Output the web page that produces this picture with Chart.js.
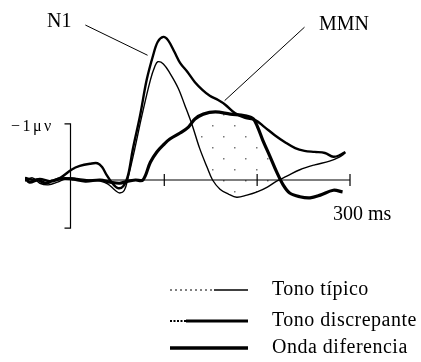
<!DOCTYPE html>
<html>
<head>
<meta charset="utf-8">
<script src="https://cdn.jsdelivr.net/npm/chart.js@4.4.1/dist/chart.umd.min.js"></script>
<style>
  html, body { margin: 0; padding: 0; background: #ffffff; }
  #wrap { width: 421px; height: 362px; }
</style>
</head>
<body>
<div id="wrap"><canvas id="c" width="421" height="362"></canvas></div>
<script>
// ---- Data (time in ms, amplitude in µV, negativity plotted upward) ----
const timeTipico = [-50,-42,-34,-25,-15,-7,0,9,20,31,39,47,52,57,61,68,76,85,90,93,99,106,115,122,130,138,146,152,160,169,178,189,200,211,221,232,246,262,278,289,295];
const valTipico  = [-0.02,0.04,-0.06,-0.09,-0.04,0.02,0.04,0.02,0,-0.02,-0.07,-0.19,-0.24,-0.19,0.04,0.56,1.20,1.85,2.11,2.19,2.15,1.98,1.70,1.39,1.02,0.59,0.24,0,-0.17,-0.26,-0.32,-0.28,-0.22,-0.13,-0.02,0.07,0.19,0.28,0.35,0.43,0.50];

const timeDiscrepante = [-50,-41,-34,-23,-12,0,9,20,28,33,38,44,50,56,61,66,74,81,88,93,99,104,111,117,125,133,141,149,158,166,176,187,198,208,219,230,241,251,262,273,282,289,295];
const valDiscrepante  = [0.04,0,0.02,-0.02,0.04,0.19,0.26,0.30,0.31,0.24,0.09,-0.06,-0.15,-0.11,0.09,0.56,1.20,1.85,2.31,2.56,2.65,2.59,2.37,2.17,2.00,1.81,1.67,1.56,1.48,1.39,1.24,1.15,1.11,0.98,0.83,0.70,0.59,0.54,0.52,0.50,0.43,0.46,0.52];

const timeDiferencia = [-50,-45,-36,-28,-21,-12,0,15,31,42,52,61,69,77,85,92,99,106,117,126,133,142,155,171,187,196,201,206,214,221,228,235,246,257,268,282,292];
const valDiferencia  = [0.04,-0.04,0,-0.06,-0.02,0.02,0.02,-0.02,0,-0.04,-0.06,-0.02,0,0,0.33,0.52,0.65,0.76,0.87,0.98,1.13,1.22,1.26,1.22,1.19,1.13,0.96,0.74,0.43,0.15,-0.09,-0.24,-0.31,-0.33,-0.28,-0.19,-0.22];

const xTicks = [100, 200, 300];
const xTickLabel = '300 ms';
const yTickLabel = '\u22121\u03bc\u03bd';
const peakLabels = ['N1', 'MMN'];
const legendLabels = ['Tono típico', 'Tono discrepante', 'Onda diferencia'];

const toXY = (ts, vs) => ts.map((t, i) => ({ x: t, y: vs[i] }));

// sparse stipple pattern for the MMN area
function makeStipple() {
  const p = document.createElement('canvas');
  p.width = 22; p.height = 22;
  const g = p.getContext('2d');
  g.fillStyle = '#777';
  g.fillRect(3, 4, 1.5, 1.5);
  g.fillRect(14, 15, 1.5, 1.5);
  return g.createPattern(p, 'repeat');
}

const serif = '"Liberation Serif", "DejaVu Serif", serif';

const decorPlugin = {
  id: 'decor',
  afterDatasetsDraw(chart) {
    const ctx = chart.ctx;
    const xs = chart.scales.x, ys = chart.scales.y;
    const X = v => xs.getPixelForValue(v);
    const Y = v => ys.getPixelForValue(v);
    ctx.save();
    ctx.strokeStyle = '#000';
    ctx.fillStyle = '#000';
    ctx.lineCap = 'butt';

    // baseline (time axis)
    ctx.lineWidth = 1.2;
    ctx.beginPath();
    ctx.moveTo(X(0), Y(0)); ctx.lineTo(X(300), Y(0));
    ctx.stroke();
    xTicks.forEach(t => {
      ctx.beginPath();
      ctx.moveTo(X(t), Y(0) - 6); ctx.lineTo(X(t), Y(0) + 6);
      ctx.stroke();
    });

    // amplitude bracket
    const ax = Math.round(X(0)) - 0.5;
    ctx.beginPath();
    ctx.moveTo(ax - 6, Y(1.04)); ctx.lineTo(ax, Y(1.04));
    ctx.lineTo(ax, Y(-0.89)); ctx.lineTo(ax - 6, Y(-0.89));
    ctx.stroke();

    // leader lines
    ctx.lineWidth = 1;
    ctx.beginPath();
    ctx.moveTo(X(15), Y(2.87)); ctx.lineTo(X(82), Y(2.31));
    ctx.moveTo(X(251), Y(2.83)); ctx.lineTo(X(165), Y(1.47));
    ctx.stroke();

    // texts
    ctx.textBaseline = 'alphabetic';
    ctx.font = '20px ' + serif;
    ctx.textAlign = 'left';
    ctx.fillText(peakLabels[0], 47, Y(2.83));
    ctx.fillText(peakLabels[1], 319, Y(2.78));
    ctx.fillText(xTickLabel, X(300) - 17, Y(0) + 40);
    ctx.font = '16px ' + serif;
    ctx.textAlign = 'left';
    try { ctx.letterSpacing = '2.5px'; } catch (e) {}
    ctx.fillText(yTickLabel, 11, Y(1) + 5);
    try { ctx.letterSpacing = '0px'; } catch (e) {}

    // legend
    const lx0 = 170, lx1 = 248, tx = 272;
    const rows = [290, 321, 348];
    // row 1: thin, dotted then solid
    ctx.lineWidth = 1;
    ctx.setLineDash([2, 3]);
    ctx.beginPath(); ctx.moveTo(lx0, rows[0]); ctx.lineTo(214, rows[0]); ctx.stroke();
    ctx.setLineDash([]);
    ctx.lineWidth = 1.6;
    ctx.beginPath(); ctx.moveTo(214, rows[0]); ctx.lineTo(lx1, rows[0]); ctx.stroke();
    // row 2: medium, dotted start then solid
    ctx.lineWidth = 2.2;
    ctx.setLineDash([2, 1.5]);
    ctx.beginPath(); ctx.moveTo(lx0, rows[1]); ctx.lineTo(186, rows[1]); ctx.stroke();
    ctx.setLineDash([]);
    ctx.lineWidth = 3;
    ctx.beginPath(); ctx.moveTo(186, rows[1]); ctx.lineTo(lx1, rows[1]); ctx.stroke();
    // row 3: thick
    ctx.lineWidth = 3.6;
    ctx.beginPath(); ctx.moveTo(lx0, rows[2]); ctx.lineTo(lx1, rows[2]); ctx.stroke();

    ctx.font = '20px ' + serif;
    ctx.textAlign = 'left';
    ctx.textBaseline = 'alphabetic';
    try { ctx.letterSpacing = '0.5px'; } catch (e) {}
    legendLabels.forEach((s, i) => ctx.fillText(s, tx, rows[i] + 5));
    ctx.restore();
  }
};

new Chart(document.getElementById('c'), {
  type: 'line',
  data: {
    datasets: [
      {
        label: legendLabels[0],
        data: toXY(timeTipico, valTipico),
        borderColor: '#000', borderWidth: 1.4,
        pointRadius: 0, tension: 0.35, fill: false
      },
      {
        label: legendLabels[1],
        data: toXY(timeDiscrepante, valDiscrepante),
        borderColor: '#000', borderWidth: 2.4,
        pointRadius: 0, tension: 0.35, fill: false
      },
      {
        label: legendLabels[2],
        data: toXY(timeDiferencia, valDiferencia),
        borderColor: '#000', borderWidth: 3.2,
        pointRadius: 0, tension: 0.35,
        fill: { target: 0, above: makeStipple(), below: 'rgba(0,0,0,0)' }
      }
    ]
  },
  options: {
    responsive: false,
    animation: false,
    devicePixelRatio: 1,
    layout: { padding: { left: 25, right: 71, top: 18, bottom: 128 } },
    scales: {
      x: { type: 'linear', min: -50, max: 300, display: false },
      y: { type: 'linear', min: -1, max: 3, display: false }
    },
    plugins: {
      legend: { display: false },
      tooltip: { enabled: false }
    }
  },
  plugins: [decorPlugin]
});
</script>
</body>
</html>
